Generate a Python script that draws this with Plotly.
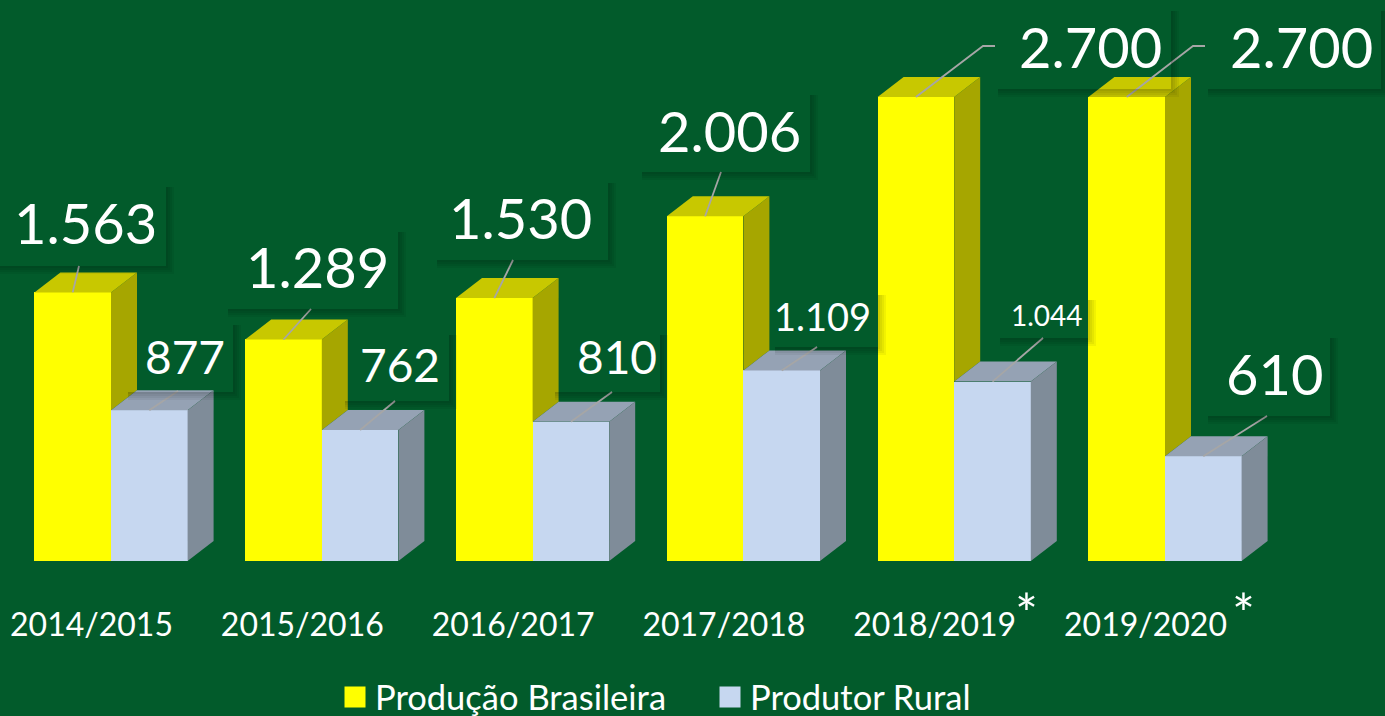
import plotly.graph_objects as go

# ---- data ----
categories = ["2014/2015", "2015/2016", "2016/2017", "2017/2018", "2018/2019", "2019/2020"]
producao = [1563, 1289, 1530, 2006, 2700, 2700]
produtor = [877, 762, 810, 1109, 1044, 610]
series_names = ["Produção Brasileira", "Produtor Rural"]

# ---- page geometry ----
W, H = 1385, 716
BASE_PX = 561
PX_PER_UNIT = 464 / 2700
GROUP_PX = 210.8
TICK0_PX = 91.5
SHIFT = 19.5 / GROUP_PX
BAR_W = 76.6 / GROUP_PX
DX = 26 / GROUP_PX
DY = 20 / PX_PER_UNIT

BG = "#025B2B"
YELLOW = ("#FFFF00", "#C8C800", "#A6A600")
BLUE = ("#C6D7F0", "#95A2B4", "#7F8C99")
LEADER = "#A6A6A6"
FONT = "Lato"

x_range = [-TICK0_PX / GROUP_PX, (W - TICK0_PX) / GROUP_PX]
y_range = [0, BASE_PX / PX_PER_UNIT]


def dx(px):
    return (px - TICK0_PX) / GROUP_PX


def dy(py):
    return (BASE_PX - py) / PX_PER_UNIT


def face(xs, ys, color):
    return go.Scatter(x=xs, y=ys, mode="lines", fill="toself", fillcolor=color,
                      line=dict(width=0, color=color), hoverinfo="skip", showlegend=False)


idx = list(range(len(categories)))
fig = go.Figure()

# front faces
fig.add_trace(go.Bar(x=[i + SHIFT - BAR_W / 2 for i in idx], y=producao, width=BAR_W,
                     marker=dict(color=YELLOW[0], line=dict(width=0)),
                     name=series_names[0], showlegend=False))
fig.add_trace(go.Bar(x=[i + SHIFT + BAR_W / 2 for i in idx], y=produtor, width=BAR_W,
                     marker=dict(color=BLUE[0], line=dict(width=0)),
                     name=series_names[1], showlegend=False))

# depth faces
for i, a, b in zip(idx, producao, produtor):
    l = i + SHIFT - BAR_W
    m = i + SHIFT
    r = i + SHIFT + BAR_W
    fig.add_trace(face([m, m + DX, m + DX, m, m], [a, a + DY, b + DY, b, a], YELLOW[2]))
    fig.add_trace(face([l, l + DX, m + DX, m, l], [a, a + DY, a + DY, a, a], YELLOW[1]))
    fig.add_trace(face([m, m + DX, r + DX, r, m], [b, b + DY, b + DY, b, b], BLUE[1]))
    fig.add_trace(face([r, r + DX, r + DX, r, r], [0, DY, b + DY, b, 0], BLUE[2]))

# legend entries
for name, col in zip(series_names, (YELLOW[0], BLUE[0])):
    fig.add_trace(go.Scatter(x=[None], y=[None], mode="markers", name=name,
                             marker=dict(symbol="square", size=16, color=col,
                                         line=dict(width=5, color=col))))

# ---- label layout (pixels on the page) ----
labels = [
    (producao[0], 0, (-5, 182, 166, 266), (85, 222), 56, [(79, 266)]),
    (produtor[0], 1, (123, 320, 233, 392), (185, 356), 46, [(178, 391)]),
    (producao[1], 0, (223, 227, 398, 309), (317, 266), 56, [(311, 309)]),
    (produtor[1], 1, (340, 330, 449, 401), (400, 364), 46, [(395, 401)]),
    (producao[2], 0, (432, 178, 608, 260), (520, 217), 56, [(513, 260)]),
    (produtor[2], 1, (550, 330, 660, 392), (617, 356), 46, [(612, 392)]),
    (producao[3], 0, (637, 90, 810, 172), (729, 130), 56, [(721, 172)]),
    (produtor[3], 1, (770, 290, 878, 347), (822, 316), 38, [(817, 347)]),
    (producao[4], 0, (993, 6, 1171, 89), (1090, 46), 56, [(983, 46), (995, 46)]),
    (produtor[4], 1, (995, 295, 1088, 338), (1047, 315), 28, [(1043, 338)]),
    (producao[5], 0, (1203, 6, 1381, 89), (1301, 46), 56, [(1193, 46), (1205, 46)]),
    (produtor[5], 1, (1203, 333, 1330, 416), (1274, 373), 56, [(1267, 416)]),
]

shapes = []
annotations = []


def fmt(v):
    return f"{v:,}".replace(",", ".")


for n, (val, series, (x0, y0, x1, y1), (tx, ty), size, pts) in enumerate(labels):
    i = n // 2
    shapes.append(dict(type="rect", xref="x", yref="y", layer="below",
                       x0=dx(x0), x1=dx(x1), y0=dy(y0), y1=dy(y1),
                       fillcolor=BG, line=dict(width=0)))
    for k in (1, 2, 3, 4):
        e = k * 2
        shapes.append(dict(type="rect", xref="x", yref="y", layer="above",
                           x0=dx(x1), x1=dx(x1 + e), y0=dy(y0 + 5), y1=dy(y1 + e),
                           fillcolor="rgba(0,0,0,0.05)", line=dict(width=0)))
        shapes.append(dict(type="rect", xref="x", yref="y", layer="above",
                           x0=dx(x0 + 5), x1=dx(x1), y0=dy(y1), y1=dy(y1 + e),
                           fillcolor="rgba(0,0,0,0.05)", line=dict(width=0)))
    cx = i + SHIFT + (BAR_W / 2 if series else -BAR_W / 2)
    fig.add_trace(go.Scatter(x=[cx] + [dx(p[0]) for p in pts],
                             y=[val] + [dy(p[1]) for p in pts],
                             mode="lines", line=dict(color=LEADER, width=1.8),
                             hoverinfo="skip", showlegend=False))
    annotations.append(dict(xref="x", yref="y", x=dx(tx), y=dy(ty), text=fmt(val),
                            showarrow=False, xanchor="center", yanchor="middle",
                            font=dict(family=FONT, size=size, color="white")))

for px in (1026, 1243):
    annotations.append(dict(xref="paper", yref="paper", x=px / W, y=(BASE_PX - 612) / BASE_PX,
                            text="*", showarrow=False, xanchor="center", yanchor="middle",
                            font=dict(family=FONT, size=54, color="white")))

fig.update_layout(
    width=W, height=H,
    margin=dict(l=0, r=0, t=0, b=H - BASE_PX, pad=0, autoexpand=False),
    paper_bgcolor=BG, plot_bgcolor="rgba(0,0,0,0)",
    barmode="overlay", bargap=0,
    font=dict(family=FONT, color="white"),
    shapes=shapes, annotations=annotations,
    xaxis=dict(range=x_range, tickvals=idx, ticktext=categories, showgrid=False,
               zeroline=False, showline=False, ticks="outside", ticklen=36,
               tickcolor="rgba(0,0,0,0)", tickfont=dict(family=FONT, size=32, color="white"),
               tickangle=0, fixedrange=True),
    yaxis=dict(range=y_range, visible=False, fixedrange=True),
    showlegend=True,
    legend=dict(orientation="h", x=335 / W, xanchor="left", y=(BASE_PX - 668) / BASE_PX,
                yanchor="top", bgcolor="rgba(0,0,0,0)", itemwidth=30,
                entrywidth=330, entrywidthmode="pixels",
                font=dict(family=FONT, size=34.5, color="white"), traceorder="normal"),
)

fig.write_html("out.html", config=dict(displayModeBar=False),
               post_script="document.body.style.margin='0';document.body.style.background='%s';" % BG)
